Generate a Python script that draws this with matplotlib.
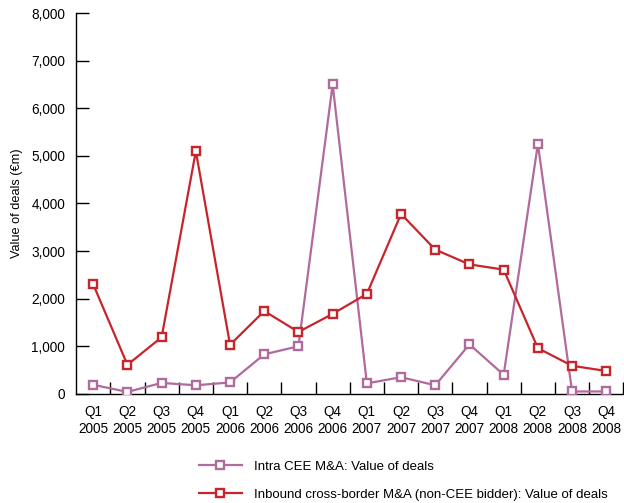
import matplotlib
matplotlib.use("Agg")
import matplotlib.pyplot as plt

plt.rcParams['font.family'] = ['Liberation Sans', 'DejaVu Sans']

quarters = ["Q1", "Q2", "Q3", "Q4"] * 4
years = ["2005"] * 4 + ["2006"] * 4 + ["2007"] * 4 + ["2008"] * 4
labels = [q + "\n" + y for q, y in zip(quarters, years)]

intra_cee = [190, 40, 230, 180, 240, 830, 1000, 6500,
             220, 350, 180, 1040, 400, 5250, 50, 50]
inbound = [2300, 610, 1190, 5100, 1030, 1740, 1300, 1680,
           2100, 3780, 3030, 2720, 2610, 960, 590, 480]

purple = "#b06a9c"
red = "#c8242b"

fig = plt.figure(figsize=(6.24, 5.03), dpi=100)
ax = fig.add_axes([0.122, 0.217, 0.877, 0.757])

x = list(range(len(labels)))
ax.plot(x, intra_cee, color=purple, lw=1.6, marker="s", ms=6, mfc="white",
        mec=purple, mew=1.7, label="Intra CEE M&A: Value of deals", zorder=3)
ax.plot(x, inbound, color=red, lw=1.6, marker="s", ms=6, mfc="white",
        mec=red, mew=1.7, label="Inbound cross-border M&A (non-CEE bidder): Value of deals", zorder=3)

ax.set_xlim(-0.5, 15.5)
ax.set_ylim(0, 8000)
ax.set_yticks(range(0, 8001, 1000))
ax.set_yticklabels([f"{v:,}" for v in range(0, 8001, 1000)], fontsize=9.8)
ax.set_xticks(x)
ax.set_xticklabels(labels, fontsize=9.8, linespacing=1.25)
ax.set_xticks([i + 0.5 for i in x], minor=True)
ax.tick_params(axis="x", which="major", length=0, pad=8)
ax.tick_params(axis="x", which="minor", direction="in", length=9, width=1)
ax.tick_params(axis="y", direction="in", length=9, width=1, pad=8)

for s in ["top", "right"]:
    ax.spines[s].set_visible(False)
ax.spines["left"].set_linewidth(1)
ax.spines["bottom"].set_linewidth(1)

ax.set_ylabel("Value of deals (€m)", fontsize=9.2, labelpad=6)

fig.legend(loc="upper left", bbox_to_anchor=(0.31, 0.095), frameon=False,
           fontsize=9.5, numpoints=1, handlelength=3.3, handletextpad=0.9,
           labelspacing=1.2, borderaxespad=0)

fig.savefig("out.png", dpi=100)
